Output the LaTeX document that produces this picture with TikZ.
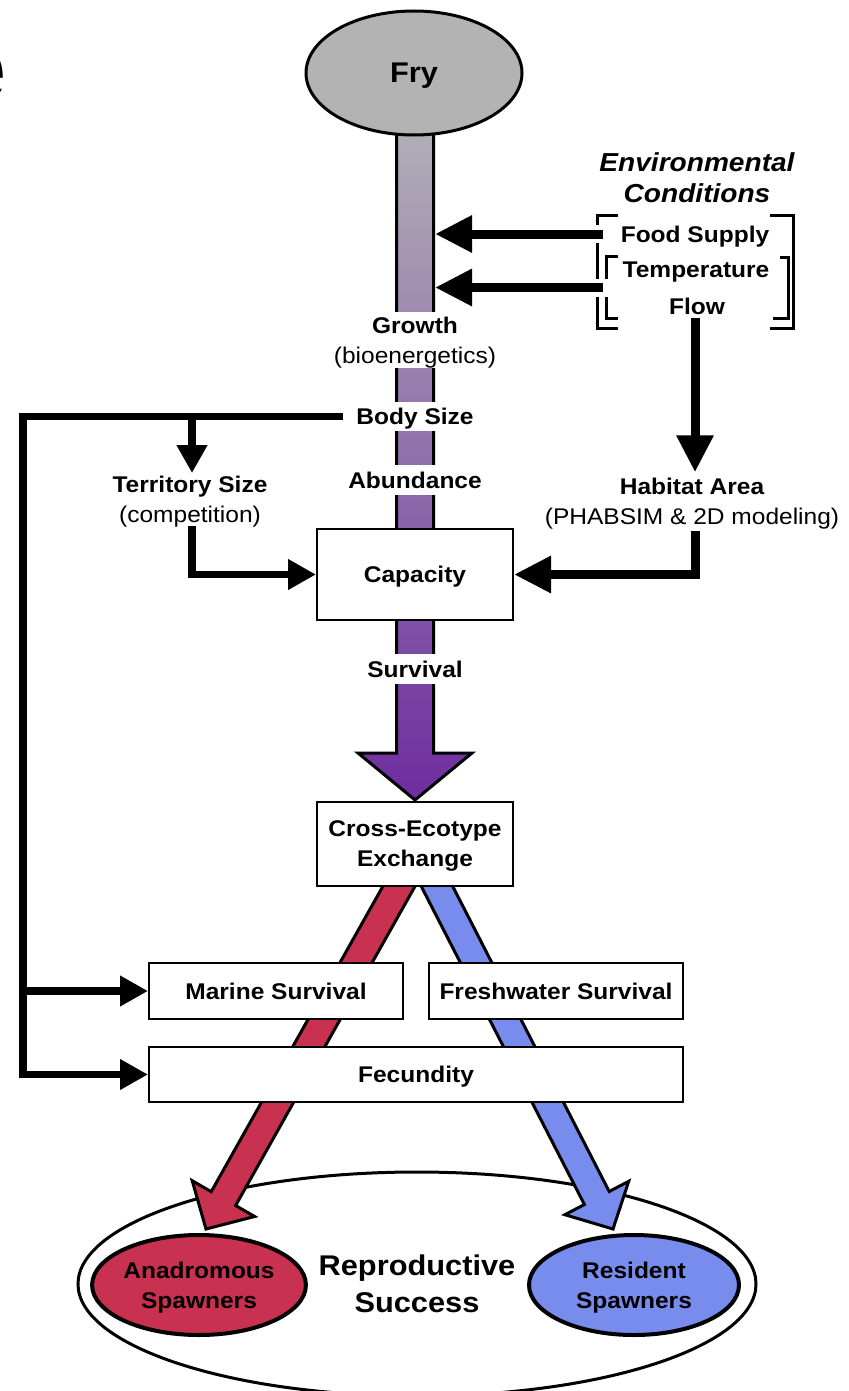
\documentclass[tikz,border=0pt]{standalone}
\usepackage{fontspec}
\setmainfont{Liberation Sans}[FakeStretch=1.08]
\usetikzlibrary{arrows.meta,shapes.geometric}
\definecolor{fryGray}{RGB}{179,179,179}
\definecolor{shTop}{RGB}{178,176,182}
\definecolor{shBot}{RGB}{110,45,160}
\definecolor{anaRed}{RGB}{200,49,80}
\definecolor{resBlue}{RGB}{120,140,238}
\tikzset{
  bigtxt/.style={font=\bfseries\fontsize{22.7}{30}\selectfont},
  boxnode/.style={draw, line width=2pt, fill=white, inner sep=0pt, bigtxt, text depth=0pt},
  shlbl/.style={bigtxt, fill=white, text depth=0pt, inner ysep=6.5pt, inner xsep=2pt},
  plainlbl/.style={bigtxt, text depth=0pt},
  brk/.style={line width=3pt},
  fatarrow/.style={line width=9pt, -{Triangle[length=37pt,width=35pt]}},
  thinarrow/.style={line width=7.5pt, -{Triangle[length=28pt,width=29pt]}},
  gapband/.style={white, line width=18pt},
  fishell/.style={ellipse, draw, line width=4pt, minimum width=210pt, minimum height=100pt, inner sep=0pt, align=center, bigtxt, text depth=0pt}
}
\begin{document}
\begin{tikzpicture}[x=1pt,y=-1pt,line join=miter]
\useasboundingbox (0,0) rectangle (848,1391);

% title fragment (cut off at the left edge, as in the reference)
\node[anchor=base east, inner sep=0pt, font=\bfseries\fontsize{106}{106}\selectfont] (title) at (7.5,104) {e};

% reproductive success
\node[ellipse, draw, line width=3pt, fill=white, minimum width=678pt, minimum height=224pt, inner sep=0pt,
      font=\bfseries\fontsize{28.5}{37}\selectfont, align=center, text depth=0pt] (repro) at (417,1284) {Reproductive\\Success};

% red and blue arrows
\path[fill=anaRed, draw=black, line width=3pt] (395.9,863.1) -- (211.2,1191.7) -- (192.2,1180.7) -- (206,1229) -- (254.6,1216.5) -- (235.6,1205.5) -- (420.3,876.9) -- cycle;
\path[fill=resBlue, draw=black, line width=3pt] (441.0,863.5) -- (609.2,1191.5) -- (628.7,1181.3) -- (613,1229) -- (564.9,1214.7) -- (584.4,1204.5) -- (416.2,876.5) -- cycle;

% spawner ellipses
\node[fishell, fill=anaRed] (ana) at (199,1285) {Anadromous\\Spawners};
\node[fishell, fill=resBlue] (res) at (634,1285) {Resident\\Spawners};

% boxes
\node[boxnode, minimum width=254pt, minimum height=56pt] (mar) at (276,991) {Marine Survival};
\node[boxnode, minimum width=254pt, minimum height=56pt] (fresh) at (556,991) {Freshwater Survival};
\node[boxnode, minimum width=534pt, minimum height=55pt] (fec) at (416,1074.5) {Fecundity};
\node[boxnode, minimum width=196pt, minimum height=84pt, align=center] (cross) at (415,844) {Cross-Ecotype\\Exchange};

% main shaft
\path[draw, line width=3pt, top color=shTop, bottom color=shBot]
  (396.5,120) -- (396.5,753) -- (358,753) -- (415,800) -- (472,753) -- (433.5,753) -- (433.5,120) -- cycle;

% fry
\node[ellipse, draw, line width=3pt, fill=fryGray, minimum width=216pt, minimum height=124pt, inner sep=0pt,
      font=\bfseries\fontsize{28.5}{34}\selectfont, text depth=0pt] (fry) at (414,73) {Fry};

% capacity
\node[boxnode, minimum width=196pt, minimum height=91pt] (cap) at (415,574.5) {Capacity};

% shaft labels
\node[shlbl, align=center, inner ysep=5pt] (growth) at (415,340) {Growth\\{\mdseries (bioenergetics)}};
\node[shlbl, inner xsep=13pt] (body) at (415,416.5) {Body Size};
\node[shlbl] (abund) at (415,480) {Abundance};
\node[shlbl] (surv) at (415,669) {Survival};

% environmental conditions
\node[font=\bfseries\itshape\fontsize{26}{31}\selectfont, align=center, text depth=0pt] (env) at (697,178) {Environmental\\Conditions};
\node[plainlbl] (food) at (695,234) {Food Supply};
\node[plainlbl] (temp) at (696,270) {Temperature};
\node[plainlbl] (flow) at (697,306) {Flow};

% brackets
\draw[brk] (618,215) -- (597,215) -- (597,328) -- (618,328);
\draw[brk] (618,256) -- (606,256) -- (606,318) -- (618,318);
\draw[brk] (770,215) -- (793,215) -- (793,328) -- (770,328);
\draw[brk] (780,257) -- (788,257) -- (788,318) -- (773,318);

% arrows from conditions
\coordinate (sr) at (435,0);
\coordinate (bx) at (603,0);
\coordinate (tf) at (603,287.5);
\draw[gapband] (590,234) -- (610,234);
\draw[gapband] (590,287.5) -- (612,287.5);
\draw[fatarrow] (bx |- food) -- (sr |- food);
\draw[fatarrow] (tf) -- (sr |- tf);

% habitat
\node[bigtxt, align=center, text depth=0pt, inner ysep=6pt] (hab) at (692,501.7) {Habitat Area\\{\mdseries (PHABSIM \& 2D modeling)}};
\coordinate (hx) at (695,0);
\draw[fatarrow] (hx |- flow.south) -- (hx |- hab.north);
\draw[fatarrow] (hx |- hab.south) |- (cap.east);

% territory and feedback
\node[bigtxt, align=center, text depth=0pt, inner ysep=3pt] (terr) at (190,499.5) {Territory Size\\{\mdseries (competition)}};
\coordinate (tx) at (192,0);
\coordinate (fbx) at (23,0);
\draw[thinarrow] (body.west) -- (fbx |- body.west) -- (fbx |- fec.west) -- (fec.west);
\draw[thinarrow] (fbx |- mar.west) -- (mar.west);
\draw[thinarrow] (tx |- body.west) -- (tx |- terr.north);
\draw[thinarrow] (tx |- terr.south) |- (cap.west);
\end{tikzpicture}
\end{document}
